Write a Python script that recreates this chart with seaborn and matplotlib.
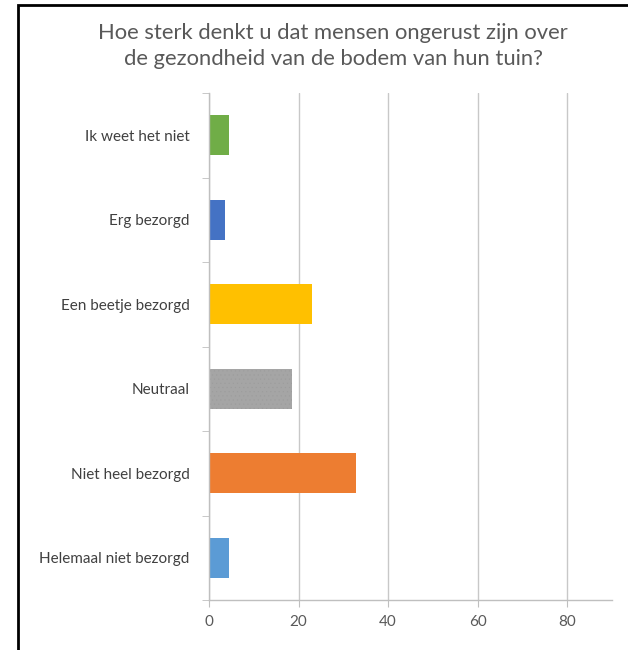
import matplotlib
matplotlib.use("Agg")
import matplotlib.pyplot as plt
import seaborn as sns
import numpy as np
from matplotlib.patches import Rectangle

# Data
categories = ["Ik weet het niet", "Erg bezorgd", "Een beetje bezorgd",
              "Neutraal", "Niet heel bezorgd", "Helemaal niet bezorgd"]
values = [4.5, 3.6, 22.9, 18.6, 32.9, 4.5]
colors = ["#70AD47", "#4472C4", "#FFC000", "#A5A5A5", "#ED7D31", "#5B9BD5"]
x_ticks = [0, 20, 40, 60, 80]

sns.set_style("white")
plt.rcParams["font.family"] = ["Lato", "DejaVu Sans"]
plt.rcParams["hatch.linewidth"] = 0.3

fig = plt.figure(figsize=(6.28, 6.5), dpi=100)
ax = fig.add_axes([209 / 628, 1 - 600 / 650, (612 - 209) / 628, (600 - 93) / 650])

sns.barplot(x=values, y=categories, hue=categories, palette=colors,
            legend=False, width=0.47, orient="h", ax=ax, saturation=1)

# dotted pattern on the grey bar
for i, p in enumerate(ax.patches):
    p.set_edgecolor("none")
    if categories[i] == "Neutraal":
        p.set_hatch("....")
        p.set_edgecolor("#9C9C9C")
        p.set_linewidth(0)

ax.set_xlim(0, 90)
ax.set_ylim(5.5, -0.5)
ax.set_xticks(x_ticks)
ax.grid(axis="x", color="#C8C8C8", linewidth=1)
ax.set_axisbelow(True)
ax.set_xlabel("")
ax.set_ylabel("")

for s in ["top", "right"]:
    ax.spines[s].set_visible(False)
for s in ["left", "bottom"]:
    ax.spines[s].set_color("#BFBFBF")
    ax.spines[s].set_linewidth(1)

ax.tick_params(axis="x", direction="out", length=5, color="#BFBFBF",
               labelsize=11, labelcolor="#595959", pad=6, bottom=True)
ax.set_yticks(np.arange(-0.5, 6, 1), minor=True)
ax.tick_params(axis="y", which="major", length=0, pad=14,
               labelsize=11, labelcolor="#404040")
ax.tick_params(axis="y", which="minor", length=5, color="#BFBFBF",
               direction="out", left=True)

fig.text(333 / 628, 1 - 46 / 650,
         "Hoe sterk denkt u dat mensen ongerust zijn over\nde gezondheid van de bodem van hun tuin?",
         ha="center", va="center", fontsize=15.8, color="#595959", linespacing=1.4)

# frame around the chart
fig.patches.append(Rectangle((18 / 628, -0.1), 1.2, 1 - 5 / 650 + 0.1,
                             transform=fig.transFigure, fill=False,
                             edgecolor="black", linewidth=2))

fig.savefig("out.png", dpi=100)
